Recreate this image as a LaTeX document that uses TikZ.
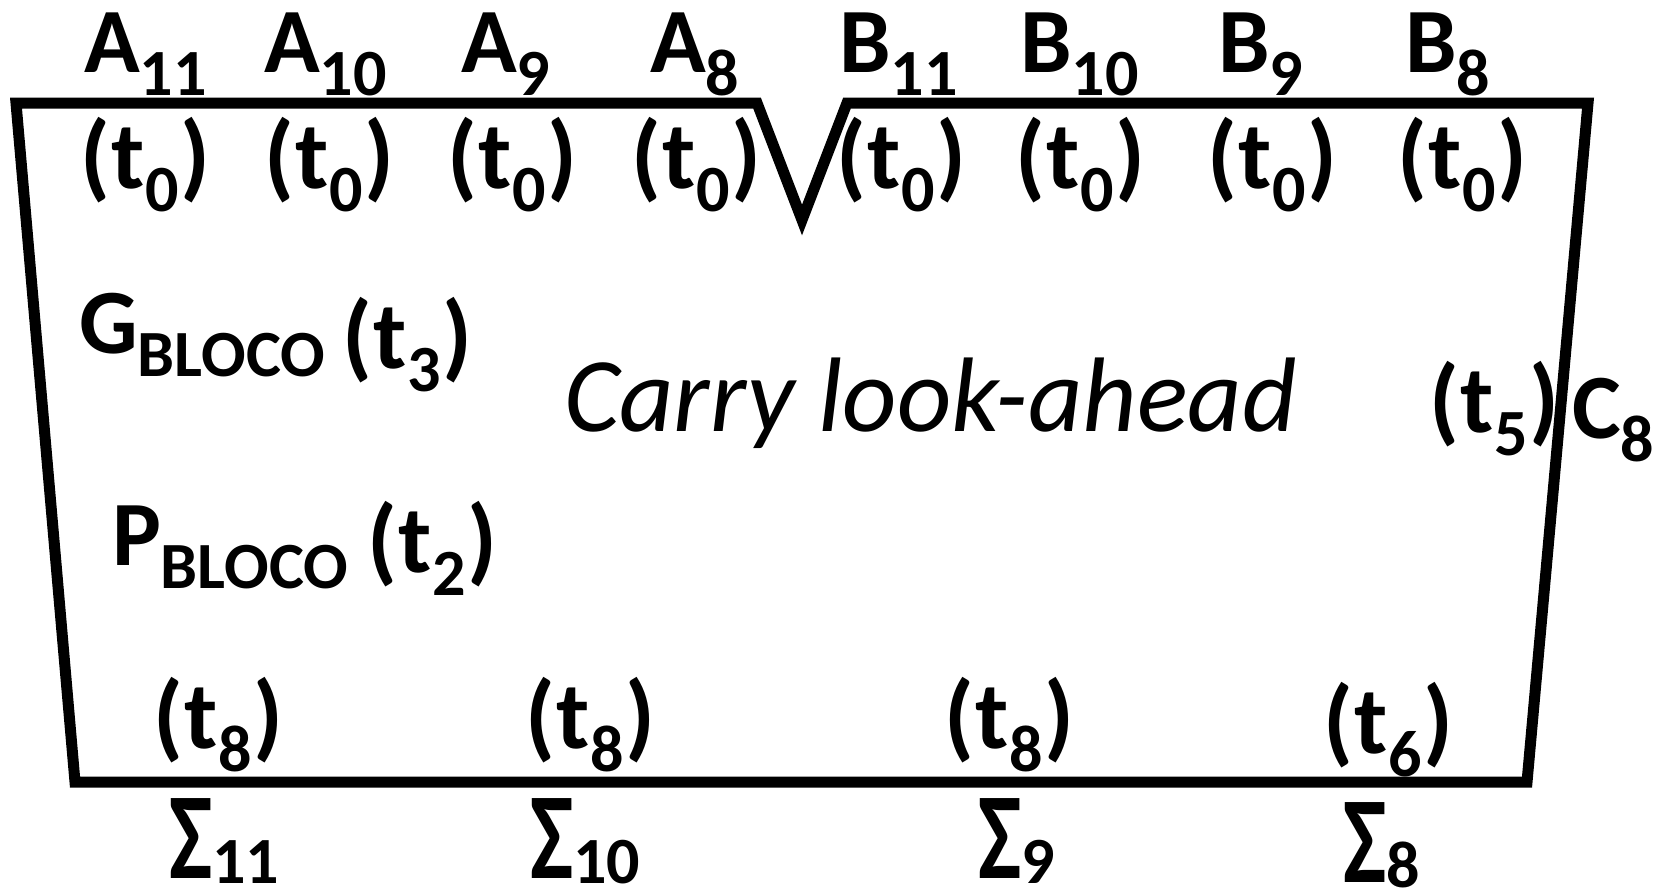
\documentclass[tikz,border=0pt]{standalone}
\usepackage{fontspec}
\setmainfont{Carlito}
\usepackage{graphicx}
\newcommand{\sbs}[1]{\raisebox{-11.5pt}{\fontsize{33}{33}\selectfont #1}}
\newcommand{\sgsub}[1]{\raisebox{-2.5pt}{\fontsize{33}{33}\selectfont #1}}
\newcommand{\bigsig}{\scalebox{1}[1.34]{Σ}}
\newcommand{\tm}[1]{(\kern1pt t\sbs{#1}\kern1pt)}
\tikzset{
  lbl/.style={inner sep=0pt, outer sep=0pt, anchor=base west, font=\bfseries\fontsize{46}{46}\selectfont},
  tlbl/.style={inner sep=0pt, outer sep=0pt, anchor=base west, font=\bfseries\fontsize{48}{48}\selectfont},
  ital/.style={inner sep=0pt, outer sep=0pt, anchor=base west, font=\itshape\fontsize{53}{53}\selectfont},
  boxline/.style={line width=5.5pt, line join=miter},
}
\begin{document}
\begin{tikzpicture}[x=0.5pt, y=-0.5pt]
\useasboundingbox (0,0) rectangle (1668,889);
% outline
\coordinate (tl) at (16,103);
\coordinate (v1) at (757,103);
\coordinate (vb) at (802,220);
\coordinate (v2) at (847,103);
\coordinate (tr) at (1588,103);
\coordinate (br) at (1527,782);
\coordinate (bl) at (75,782);
\draw[boxline] (tl) -- (v1) -- (vb) -- (v2) -- (tr) -- (br) -- (bl) -- cycle;
% A inputs
\node[lbl] (a11) at (84,72) {A\sbs{11}};
\node[lbl] (a10) at (264,72) {A\sbs{10}};
\node[lbl] (a9) at (461,72) {A\sbs{9}};
\node[lbl] (a8) at (650,72) {A\sbs{8}};
% B inputs
\node[lbl] (b11) at (839,72) {B\sbs{11}};
\node[lbl] (b10) at (1020,72) {B\sbs{10}};
\node[lbl] (b9) at (1218,72) {B\sbs{9}};
\node[lbl] (b8) at (1405,72) {B\sbs{8}};
% t0 row
\node[tlbl] (ta11) at (80,188) {\tm{0}};
\node[tlbl] (ta10) at (264,188) {\tm{0}};
\node[tlbl] (ta9) at (447,188) {\tm{0}};
\node[tlbl] (ta8) at (631,188) {\tm{0}};
\node[tlbl] (tb11) at (836,188) {\tm{0}};
\node[tlbl] (tb10) at (1015,188) {\tm{0}};
\node[tlbl] (tb9) at (1207,188) {\tm{0}};
\node[tlbl] (tb8) at (1397,188) {\tm{0}};
% G and P
\node[lbl] (g) at (79,353) {G\sbs{BLOCO}};
\node[tlbl] (tg) at (342,368) {\tm{3}};
\node[lbl] (p) at (112,565) {P\sbs{BLOCO}};
\node[tlbl] (tp) at (367,572) {\tm{2}};
% title
\node[ital] (title) at (564,431) {Carry look-ahead};
% carry out
\node[tlbl] (tc) at (1429,432) {\tm{5}};
\node[lbl] (c8) at (1572,438) {C\sbs{8}};
% output times
\node[tlbl] (ts11) at (153,748) {\tm{8}};
\node[tlbl] (ts10) at (525,748) {\tm{8}};
\node[tlbl] (ts9) at (944,748) {\tm{8}};
\node[tlbl] (ts8) at (1323,753) {\tm{6}};
% sums
\node[lbl] (s11) at (169,878) {\bigsig\sgsub{11}};
\node[lbl] (s10) at (530,878) {\bigsig\sgsub{10}};
\node[lbl] (s9) at (978,878) {\bigsig\sgsub{9}};
\node[lbl] (s8) at (1343,882) {\bigsig\sgsub{8}};
\end{tikzpicture}
\end{document}
